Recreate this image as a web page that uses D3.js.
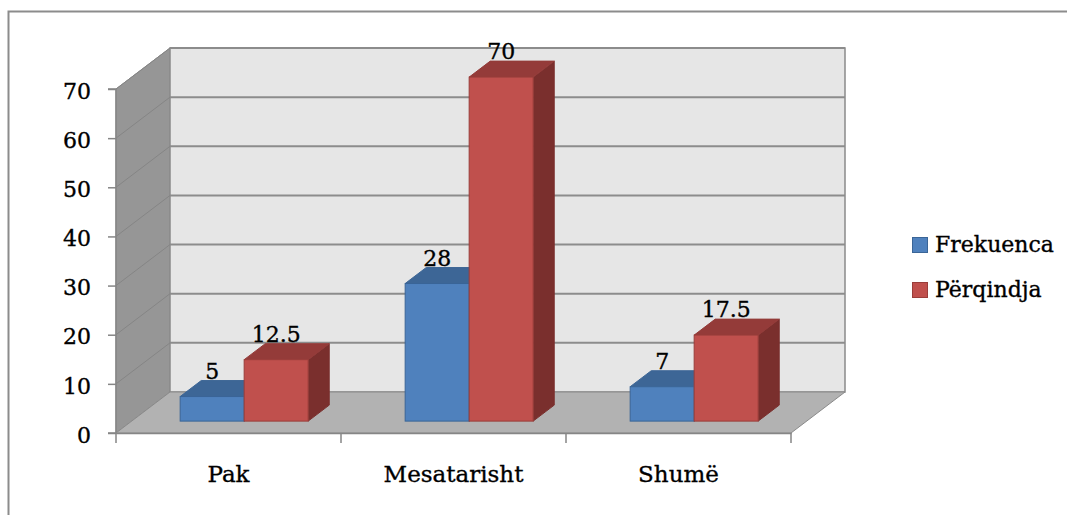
<!DOCTYPE html>
<html>
<head>
<meta charset="utf-8">
<script src="https://cdn.jsdelivr.net/npm/d3@7"></script>
<style>
  html, body { margin: 0; padding: 0; background: #ffffff; overflow: hidden; }
  svg { display: block; }
  text { font-family: "DejaVu Serif", "Liberation Serif", serif; fill: #000; stroke: #000; stroke-width: 0.35px; }
</style>
</head>
<body>
<svg id="chart" width="1067" height="515"></svg>
<script>
// Data
const categories = ["Pak", "Mesatarisht", "Shumë"];
const seriesNames = ["Frekuenca", "Përqindja"];
const frekuenca = [5, 28, 7];
const perqindja = [12.5, 70, 17.5];
const yTickValues = [0, 10, 20, 30, 40, 50, 60, 70];

const seriesValues = [frekuenca, perqindja];
const palette = [
  { front: "#4F81BD", top: "#3D6696", side: "#30527A", edge: "#3A6597" },
  { front: "#C0504D", top: "#943B39", side: "#7A2F2D", edge: "#9A3D3A" }
];

const svg = d3.select("#chart");

// Outer chart frame (continues past the right and bottom edges)
svg.append("path")
  .attr("d", "M8.5,700V11.5H2000")
  .attr("fill", "none").attr("stroke", "#8c8c8c").attr("stroke-width", 2);

// 3D projection: front plane scales plus a depth offset
const depthDX = 54, depthDY = -41;
const y = d3.scaleLinear().domain([0, 70]).range([433, 89]);
const x = d3.scaleBand().domain(categories).range([116, 791]).paddingInner(0).paddingOuter(0);
const groupWidth = 128;
const xs = d3.scaleBand().domain(seriesNames).range([0, groupWidth]);
const barZ0 = 0.29, barZ1 = 0.68;   // depth range occupied by the bars

const x0 = x.range()[0], x1 = x.range()[1];
const yTop = y(70), yBase = y(0);

const g = svg.append("g");

// Side wall
g.append("polygon")
  .attr("points", [[x0, yTop], [x0 + depthDX, yTop + depthDY], [x0 + depthDX, yBase + depthDY], [x0, yBase]].join(" "))
  .attr("fill", "#969696").attr("stroke", "#8a8a8a").attr("stroke-width", 1);

// Back wall
g.append("rect")
  .attr("x", x0 + depthDX).attr("y", yTop + depthDY)
  .attr("width", x1 - x0).attr("height", yBase - yTop)
  .attr("fill", "#E6E6E6").attr("stroke", "#8a8a8a").attr("stroke-width", 1.5);

// Floor
g.append("polygon")
  .attr("points", [[x0, yBase], [x1, yBase], [x1 + depthDX, yBase + depthDY], [x0 + depthDX, yBase + depthDY]].join(" "))
  .attr("fill", "#B2B2B2").attr("stroke", "#8a8a8a").attr("stroke-width", 1);

// Gridlines on back wall and side wall
const gridVals = yTickValues.filter(v => v > 0);
g.selectAll("line.grid-back").data(gridVals).enter().append("line")
  .attr("class", "grid-back")
  .attr("x1", x0 + depthDX).attr("x2", x1 + depthDX)
  .attr("y1", d => y(d) + depthDY).attr("y2", d => y(d) + depthDY)
  .attr("stroke", "#8c8c8c").attr("stroke-width", 2);
g.selectAll("line.grid-side").data(gridVals).enter().append("line")
  .attr("class", "grid-side")
  .attr("x1", x0).attr("x2", x0 + depthDX)
  .attr("y1", d => y(d)).attr("y2", d => y(d) + depthDY)
  .attr("stroke", "#858585").attr("stroke-width", 1);

// Y axis (front edge of side wall)
const yAxis = d3.axisLeft(y).tickValues(yTickValues).tickSize(8).tickPadding(17).tickFormat(d3.format("d"));
const yAxisG = svg.append("g").attr("transform", `translate(${x0},0)`).call(yAxis);
yAxisG.select(".domain").attr("stroke", "#868686").attr("stroke-width", 1.5).attr("d", `M-8,${yBase}H0V${yTop}H-8`);
yAxisG.selectAll(".tick line").attr("stroke", "#868686").attr("stroke-width", 1.5);
yAxisG.selectAll(".tick text")
  .style("font-family", '"DejaVu Serif", serif').style("font-size", "22px").attr("fill", "#000")
  .attr("dy", "0.42em");

// X axis: labels centred in each band, ticks on the band edges
const xAxis = d3.axisBottom(x).tickSize(0).tickPadding(33);
const xAxisG = svg.append("g").attr("transform", `translate(0,${yBase})`).call(xAxis);
xAxisG.select(".domain").attr("stroke", "#868686").attr("stroke-width", 1.5);
xAxisG.selectAll(".tick text")
  .style("font-family", '"DejaVu Serif", serif').style("font-size", "23px").attr("fill", "#000");
const edges = categories.map(c => x(c)).concat([x1]);
xAxisG.selectAll("line.edge").data(edges).enter().append("line")
  .attr("class", "edge")
  .attr("x1", d => d).attr("x2", d => d).attr("y1", 0).attr("y2", 10)
  .attr("stroke", "#868686").attr("stroke-width", 1.5);

// Bars as 3D boxes
const bars = svg.append("g");
const offX0 = depthDX * barZ0, offY0 = depthDY * barZ0;
const offX1 = depthDX * barZ1, offY1 = depthDY * barZ1;
const barDX = offX1 - offX0, barDY = offY1 - offY0;
const labels = [];

categories.forEach((cat, ci) => {
  seriesNames.forEach((s, si) => {
    const v = seriesValues[si][ci];
    const col = palette[si];
    const left = x(cat) + (x.bandwidth() - groupWidth) / 2 + xs(s) + offX0;
    const right = left + xs.bandwidth();
    const base = y(0) + offY0;
    const top = y(v) + offY0;
    const box = bars.append("g");
    // right side
    box.append("polygon")
      .attr("points", [[right, top], [right + barDX, top + barDY], [right + barDX, base + barDY], [right, base]].join(" "))
      .attr("fill", col.side).attr("stroke", col.side).attr("stroke-width", 1);
    // top
    box.append("polygon")
      .attr("points", [[left, top], [left + barDX, top + barDY], [right + barDX, top + barDY], [right, top]].join(" "))
      .attr("fill", col.top).attr("stroke", col.top).attr("stroke-width", 1);
    // front
    box.append("rect")
      .attr("x", left).attr("y", top)
      .attr("width", right - left).attr("height", base - top)
      .attr("fill", col.front).attr("stroke", col.edge).attr("stroke-width", 1);
    labels.push({ x: (left + right) / 2, y: top + barDY - 2, v });
  });
});

// Value labels
svg.append("g").selectAll("text").data(labels).enter().append("text")
  .attr("x", d => d.x).attr("y", d => d.y)
  .attr("text-anchor", "middle")
  .style("font-size", "22px")
  .text(d => d3.format("~g")(d.v));

// Legend
const legend = svg.append("g").attr("transform", "translate(912,237)");
seriesNames.forEach((s, i) => {
  const row = legend.append("g").attr("transform", `translate(0,${i * 45})`);
  row.append("rect").attr("x", 0.5).attr("y", 0.5).attr("width", 15).attr("height", 15)
    .attr("fill", palette[i].front).attr("stroke", palette[i].edge).attr("stroke-width", 1);
  row.append("text").attr("x", 23).attr("y", 15).style("font-size", "22px").text(s);
});
</script>
</body>
</html>
